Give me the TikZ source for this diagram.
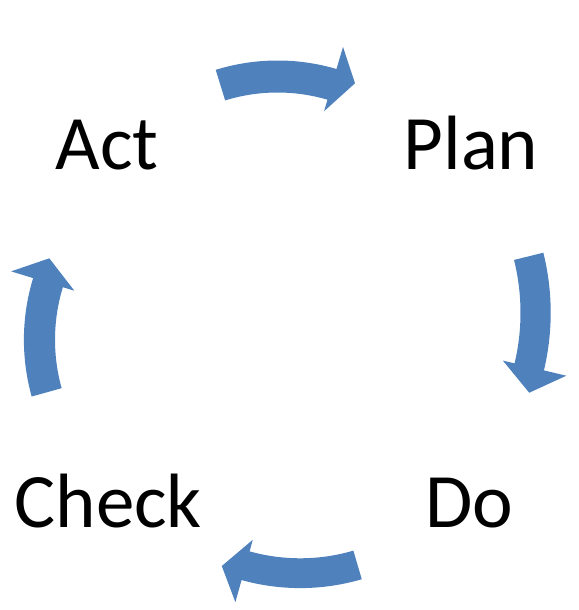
\documentclass[tikz,border=0pt]{standalone}
\usepackage{fontspec}
\setmainfont{Carlito}
\definecolor{pdcablue}{HTML}{4F81BD}
\tikzset{
  lbl/.style={inner sep=0pt, anchor=base, font=\fontsize{77}{92}\selectfont},
  blockarrow/.style={fill=pdcablue, draw=none}
}
% #1,#2 centre; #3 inner radius; #4 outer radius; #5 start angle; #6 head-base angle; #7 tip angle; #8 tip radius
\newcommand\pdcaarrow[8]{%
  \begin{scope}[shift={(#1pt,#2pt)}]
    \pgfmathsetmacro\barbout{#4+23}
    \pgfmathsetmacro\barbin{#3-12}
    \fill[blockarrow] (#5:#4pt) arc[start angle=#5, end angle=#6, radius=#4pt]
      -- (#6:\barbout pt) -- (#7:#8pt) -- (#6:\barbin pt) -- (#6:#3pt)
      arc[start angle=#6, end angle=#5, radius=#3pt] -- cycle;
  \end{scope}}
\begin{document}
\begin{tikzpicture}[x=1pt,y=1pt]
  \useasboundingbox (0,0) rectangle (578,610);
  % arrows
  \pdcaarrow{277.5}{340.5}{177}{209}{107.2}{73.6}{67.4}{201.7}
  \pdcaarrow{302.2}{297.2}{218.3}{248.5}{14.0}{-13.4}{-19.4}{240.7}
  \pdcaarrow{300.2}{240}{188.3}{218.1}{-73.6}{-105.6}{-111.8}{211.1}
  \pdcaarrow{234.9}{270.2}{179.9}{211}{195.6}{163.0}{156.3}{202.7}
  % labels
  \node[lbl] (act) at (107,440) {Act};
  \node[lbl] (plan) at (471,440) {Plan};
  \node[lbl] (check) at (108.3,82.5) {Check};
  \node[lbl] (do) at (469.2,82.5) {Do};
\end{tikzpicture}
\end{document}
